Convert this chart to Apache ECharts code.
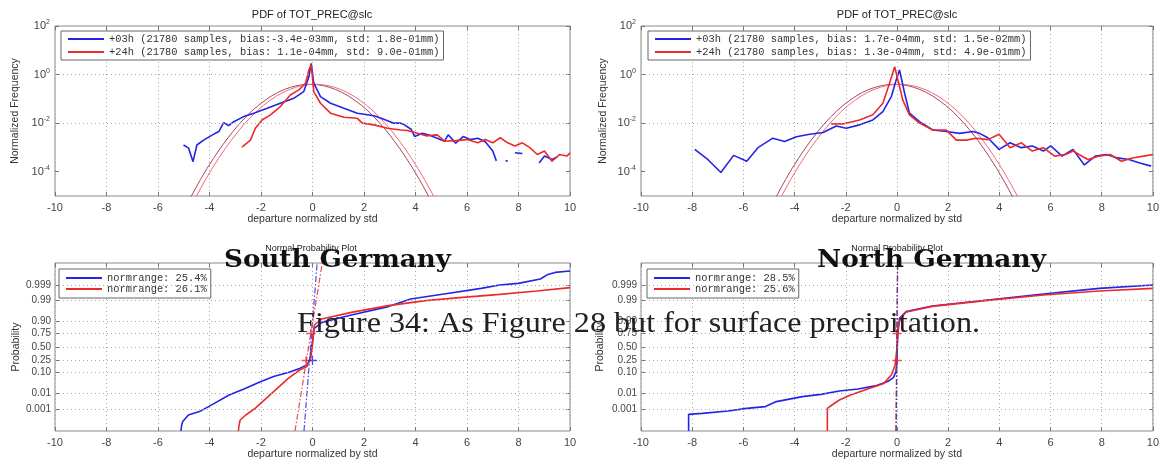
<!DOCTYPE html>
<html>
<head>
<meta charset="utf-8">
<script src="https://cdn.jsdelivr.net/npm/echarts@6/dist/echarts.min.js"></script>
<style>html,body{margin:0;padding:0;background:#fff}#c{width:1162px;height:466px}</style>
</head>
<body>
<div id="c"></div>
<script>
// ---------------- data ----------------
const LOG_TICKS = [1e-4, 1e-2, 1, 100];
const LOG_GRID = [1e-4, 1e-2, 1];
const PROB_LABELS = ['0.001','0.01','0.10','0.25','0.50','0.75','0.90','0.99','0.999'];
const PROB_Z = [-3.090,-2.326,-1.282,-0.674,0,0.674,1.282,2.326,3.090];

const TL_BLUE_NAME = '+03h (21780 samples, bias:-3.4e-03mm, std: 1.8e-01mm)';
const TL_RED_NAME  = '+24h (21780 samples, bias: 1.1e-04mm, std: 9.0e-01mm)';
const TR_BLUE_NAME = '+03h (21780 samples, bias: 1.7e-04mm, std: 1.5e-02mm)';
const TR_RED_NAME  = '+24h (21780 samples, bias: 1.3e-04mm, std: 4.9e-01mm)';
const BL_BLUE_NAME = 'normrange: 25.4%';
const BL_RED_NAME  = 'normrange: 26.1%';
const BR_BLUE_NAME = 'normrange: 28.5%';
const BR_RED_NAME  = 'normrange: 25.6%';

const TL_BLUE = [[-5.01,1.26e-3],[-4.81,9.3e-4],[-4.64,2.6e-4],[-4.49,1.26e-3],[-4.23,2.0e-3],[-3.90,3.2e-3],[-3.64,4.5e-3],[-3.45,1.05e-2],[-3.26,7.9e-3],[-3.06,1.15e-2],[-2.67,1.86e-2],[-2.28,2.57e-2],[-1.76,4.1e-2],[-1.25,6.6e-2],[-0.73,0.105],[-0.34,0.20],[-0.14,0.81],[-0.05,2.9],[0.05,0.44],[0.31,0.123],[0.70,0.066],[1.22,0.041],[1.74,0.0257],[2.39,0.020],[2.77,0.0145],[3.16,0.010],[3.42,0.010],[3.54,0.0089],[3.83,0.0056],[3.97,0.0028],[4.26,0.0038],[4.55,0.0032],[4.84,0.0024],[5.13,0.0018],[5.27,0.0033],[5.56,0.0015],[5.85,0.0028],[6.13,0.0021],[6.42,0.0024],[6.71,0.0017],[7.00,7.1e-4],[7.14,2.8e-4],[7.2,null],[7.50,2.8e-4],[7.58,2.8e-4],[7.65,null],[7.86,6.0e-4],[8.15,5.6e-4],[8.2,null],[8.80,2.3e-4],[9.01,4.4e-4],[9.30,3.2e-4],[9.50,4.0e-4]];
const TL_RED = [[-2.74,1.02e-3],[-2.41,2.0e-3],[-2.22,6.2e-3],[-1.96,1.35e-2],[-1.63,2.2e-2],[-1.25,4.8e-2],[-0.86,0.145],[-0.53,0.234],[-0.27,0.44],[-0.14,1.55],[-0.05,2.5],[0.05,0.20],[0.31,0.066],[0.70,0.0257],[1.22,0.0174],[1.74,0.0158],[1.93,0.010],[2.39,0.0085],[2.91,0.0062],[3.42,0.0052],[3.69,0.0050],[3.97,0.0041],[4.41,0.0030],[4.84,0.0033],[5.13,0.0018],[5.56,0.0019],[6.00,0.0021],[6.42,0.00155],[6.71,0.0021],[7.00,0.00155],[7.29,0.0025],[7.58,0.00155],[7.86,0.00115],[8.15,0.00155],[8.44,0.00098],[8.73,0.00051],[9.01,0.00071],[9.30,0.00027],[9.59,0.00051],[9.88,0.00044],[10,0.0006]];
const TR_BLUE = [[-7.90,8.3e-4],[-7.39,3.2e-4],[-6.88,9.3e-5],[-6.38,4.7e-4],[-5.87,2.7e-4],[-5.43,9.8e-4],[-4.85,2.4e-3],[-4.39,1.74e-3],[-3.93,2.75e-3],[-3.41,3.5e-3],[-2.89,4.1e-3],[-2.37,7.6e-3],[-1.98,6.2e-3],[-1.46,8.5e-3],[-0.94,1.35e-2],[-0.55,2.95e-2],[-0.22,0.123],[-0.03,0.60],[0.10,1.55],[0.30,0.17],[0.49,0.0257],[0.88,0.0115],[1.40,0.0052],[1.93,0.0045],[2.45,0.0038],[2.97,0.0045],[3.23,0.0038],[3.55,0.0025],[3.99,8.3e-4],[4.42,1.55e-3],[4.86,9.8e-4],[5.29,1.15e-3],[5.72,7.1e-4],[6.01,1.15e-3],[6.45,4.4e-4],[6.88,8.3e-4],[7.32,1.9e-4],[7.75,4.4e-4],[8.19,5.1e-4],[8.62,3.7e-4],[9.06,3.2e-4],[9.49,2.3e-4],[9.93,1.7e-4]];
const TR_RED = [[-2.57,9.3e-3],[-2.11,9.3e-3],[-1.46,1.35e-2],[-0.94,2.2e-2],[-0.55,0.066],[-0.29,0.44],[-0.09,2.1],[0.04,0.60],[0.23,0.089],[0.49,0.022],[0.88,0.010],[1.40,0.0052],[1.93,0.0052],[2.32,0.0020],[2.71,0.0020],[3.10,0.0024],[3.55,0.0021],[3.99,0.0035],[4.42,9.8e-4],[4.86,1.55e-3],[5.29,7.1e-4],[5.72,9.8e-4],[6.16,4.4e-4],[6.59,5.1e-4],[6.88,7.1e-4],[7.46,3.2e-4],[7.90,4.4e-4],[8.33,5.1e-4],[8.77,2.7e-4],[9.20,3.7e-4],[9.64,4.4e-4],[10,5.1e-4]];

// fitted normal curves
const GAUSS_DARK = [[-4.85,5.0e-6],[-4.6,1.6e-5],[-4.35,4.8e-5],[-4.1,1.34e-4],[-3.85,3.5e-4],[-3.6,8.7e-4],[-3.35,2.0e-3],[-3.1,4.4e-3],[-2.85,9.1e-3],[-2.6,1.75e-2],[-2.35,3.2e-2],[-2.1,5.4e-2],[-1.85,8.6e-2],[-1.6,0.13],[-1.35,0.183],[-1.1,0.242],[-0.85,0.301],[-0.6,0.352],[-0.35,0.387],[-0.1,0.399],[0.15,0.387],[0.4,0.352],[0.65,0.301],[0.9,0.242],[1.15,0.183],[1.4,0.13],[1.65,8.6e-2],[1.9,5.4e-2],[2.15,3.2e-2],[2.4,1.75e-2],[2.65,9.1e-3],[2.9,4.4e-3],[3.15,2.0e-3],[3.4,8.7e-4],[3.65,3.5e-4],[3.9,1.34e-4],[4.15,4.8e-5],[4.4,1.6e-5],[4.65,5.0e-6]];
const GAUSS_LIGHT = [[-4.65,5.0e-6],[-4.4,1.6e-5],[-4.15,4.8e-5],[-3.9,1.34e-4],[-3.65,3.5e-4],[-3.4,8.7e-4],[-3.15,2.0e-3],[-2.9,4.4e-3],[-2.65,9.1e-3],[-2.4,1.75e-2],[-2.15,3.2e-2],[-1.9,5.4e-2],[-1.65,8.6e-2],[-1.4,0.13],[-1.15,0.183],[-0.9,0.242],[-0.65,0.301],[-0.4,0.352],[-0.15,0.387],[0.1,0.399],[0.35,0.387],[0.6,0.352],[0.85,0.301],[1.1,0.242],[1.35,0.183],[1.6,0.13],[1.85,8.6e-2],[2.1,5.4e-2],[2.35,3.2e-2],[2.6,1.75e-2],[2.85,9.1e-3],[3.1,4.4e-3],[3.35,2.0e-3],[3.6,8.7e-4],[3.85,3.5e-4],[4.1,1.34e-4],[4.35,4.8e-5],[4.6,1.6e-5],[4.85,5.0e-6]];

// normal probability plots: [departure, normal score]
const BL_BLUE = [[-5.11,-4.2],[-5.08,-3.9],[-5.04,-3.73],[-4.82,-3.40],[-4.39,-3.23],[-3.81,-2.82],[-3.24,-2.40],[-2.66,-2.10],[-2.09,-1.77],[-1.51,-1.48],[-0.94,-1.27],[-0.50,-1.07],[-0.22,-0.90],[-0.10,-0.65],[-0.04,-0.07],[0.0,0.27],[0.04,0.70],[0.07,0.93],[0.36,1.23],[1.51,1.60],[2.95,2.02],[3.81,2.40],[5.11,2.65],[6.55,2.93],[7.27,3.10],[7.99,3.18],[8.85,3.40],[9.14,3.63],[9.42,3.73],[10,3.80]];
const BL_RED = [[-2.88,-4.2],[-2.85,-3.9],[-2.81,-3.65],[-2.59,-3.40],[-2.23,-3.07],[-1.80,-2.57],[-1.37,-2.07],[-0.94,-1.57],[-0.50,-1.15],[-0.22,-0.98],[-0.07,-0.57],[0,0.10],[0.07,1.10],[0.36,1.40],[1.51,1.73],[2.95,2.07],[4.39,2.32],[5.83,2.48],[7.27,2.63],[8.71,2.80],[10,2.97]];
const BL_BLUE_REF = [[-0.33,-4.2],[0.18,4.2]];
const BL_RED_REF = [[-0.68,-4.2],[0.38,4.2]];
const BL_RED_PLUS = [[-0.07,0.674],[-0.25,-0.674]];
const BL_BLUE_PLUS = [[0.0,-0.674]];

const BR_BLUE = [[-8.14,-4.2],[-8.14,-3.37],[-7.61,-3.32],[-6.59,-3.20],[-5.87,-3.07],[-5.14,-2.98],[-4.71,-2.73],[-3.70,-2.48],[-2.97,-2.37],[-2.25,-2.20],[-1.52,-2.10],[-0.80,-1.93],[-0.36,-1.73],[-0.14,-1.53],[-0.04,-1.23],[0,-0.73],[0.03,0.60],[0.10,1.43],[0.36,1.77],[1.38,2.05],[3.55,2.35],[5.72,2.65],[7.90,2.93],[10,3.10]];
const BR_RED = [[-2.72,-4.2],[-2.72,-3.07],[-2.54,-2.90],[-2.25,-2.65],[-1.81,-2.40],[-1.09,-2.07],[-0.51,-1.82],[-0.22,-1.40],[-0.07,-0.90],[0,-0.07],[0.04,0.93],[0.14,1.43],[0.36,1.75],[1.38,2.03],[3.55,2.33],[5.72,2.60],[7.90,2.80],[10,2.93]];
const BR_BLUE_REF = [[-0.03,-4.2],[0.03,4.2]];
const BR_RED_REF = [[-0.04,-4.2],[0.02,4.2]];
const BR_RED_PLUS = [[0.0,0.674],[0.0,-0.674]];

// ---------------- styling / layout ----------------
const BLUE = '#2424e6', RED = '#ec2a2a', GDARK = '#a34a5e', GLIGHT = '#f06a78';
const SANS = 'Liberation Sans', MONO = 'Liberation Mono';
const GRIDS = [
  {left:55, top:26, width:515, height:170},
  {left:641, top:26, width:512, height:170},
  {left:55, top:263, width:515, height:168},
  {left:641, top:263, width:512, height:168}
].map(g => Object.assign(g, {show:true, borderColor:'#8a8a8a', borderWidth:1, backgroundColor:'#fff'}));

const gridLine = {type:[1,3], color:'#a8a8a8', width:1};
const tickStyle = {color:'#777'};
const noLine = {show:false, onZero:false};

function xAx(i){
  return {type:'value', gridIndex:i, min:-10, max:10, interval:2, position:'bottom',
    name:'departure normalized by std', nameLocation:'middle', nameGap:17,
    nameTextStyle:{fontSize:10.5, color:'#333', fontFamily:SANS},
    axisLine:noLine,
    axisTick:{inside:true, length:4, lineStyle:tickStyle},
    axisLabel:{fontSize:11, color:'#444', fontFamily:SANS, margin:6},
    splitLine:{show:true, lineStyle:gridLine}};
}
function xTop(i){
  return {type:'value', gridIndex:i, min:-10, max:10, interval:2, position:'top',
    axisLine:noLine, axisTick:{inside:true, length:4, lineStyle:tickStyle},
    axisLabel:{show:false}, splitLine:{show:false}};
}
function yLog(i, gap){
  return {type:'log', logBase:10, gridIndex:i, min:1e-5, max:100, position:'left',
    name:'Normalized Frequency', nameLocation:'middle', nameGap:gap,
    nameTextStyle:{fontSize:10.5, color:'#333', fontFamily:SANS},
    axisLine:noLine,
    axisTick:{inside:true, length:4, customValues:LOG_TICKS, lineStyle:tickStyle},
    axisLabel:{customValues:LOG_TICKS, margin:5,
      formatter: v => '{b|10}{s|' + Math.round(Math.log10(v)) + '}',
      rich:{b:{fontSize:11, color:'#444', fontFamily:SANS}, s:{fontSize:7, color:'#444', fontFamily:SANS, padding:[0,0,8,0]}}},
    splitLine:{show:false}, minorTick:{show:false}, minorSplitLine:{show:false}};
}
function yLogRight(i){
  return {type:'log', logBase:10, gridIndex:i, min:1e-5, max:100, position:'right',
    axisLine:noLine, axisTick:{inside:true, length:4, customValues:LOG_TICKS, lineStyle:tickStyle},
    axisLabel:{show:false}, splitLine:{show:false}, minorTick:{show:false}};
}
function yProb(i, gap){
  return {type:'value', gridIndex:i, min:-4.2, max:4.2, position:'left',
    name:'Probability', nameLocation:'middle', nameGap:gap,
    nameTextStyle:{fontSize:10.5, color:'#333', fontFamily:SANS},
    axisLine:noLine,
    axisTick:{inside:true, length:4, customValues:PROB_Z, lineStyle:tickStyle},
    axisLabel:{customValues:PROB_Z, fontSize:10, color:'#444', fontFamily:SANS, margin:4,
      formatter: v => { const k = PROB_Z.findIndex(z => Math.abs(z - v) < 1e-6); return k >= 0 ? PROB_LABELS[k] : ''; }},
    splitLine:{show:false}};
}
function yProbRight(i){
  return {type:'value', gridIndex:i, min:-4.2, max:4.2, position:'right',
    axisLine:noLine, axisTick:{inside:true, length:4, customValues:PROB_Z, lineStyle:tickStyle},
    axisLabel:{show:false}, splitLine:{show:false}};
}
function hGrid(vals){
  return {silent:true, symbol:'none', label:{show:false}, lineStyle:gridLine, animation:false,
    data: vals.map(v => ({yAxis:v}))};
}
function line(name, data, gi, color, width, extra){
  return Object.assign({type:'line', name, data, xAxisIndex:gi, yAxisIndex:gi, symbol:'none',
    lineStyle:{color, width}, itemStyle:{color}, connectNulls:false, animation:false, z:3}, extra || {});
}
function refLine(data, gi, color){
  return {type:'line', data, xAxisIndex:gi, yAxisIndex:gi, symbol:'none', silent:true,
    lineStyle:{color, width:1.2, type:[6,2,1.5,2]}, animation:false, z:4};
}
const PLUS = 'path://M0,5L10,5M5,0L5,10';
function plus(data, gi, color){
  return {type:'scatter', data, xAxisIndex:gi, yAxisIndex:gi, symbol:PLUS, symbolSize:9, silent:true,
    itemStyle:{color:'none', borderColor:color, borderWidth:1.3}, animation:false, z:5};
}
function legend(left, top, names, itemH, gap, pad){
  return {left, top, orient:'vertical', data:names, itemWidth:36, itemHeight:itemH, itemGap:gap,
    padding:pad, borderColor:'#666', borderWidth:1, backgroundColor:'#fff', selectedMode:false,
    itemStyle:{color:'rgba(0,0,0,0)', borderColor:'rgba(0,0,0,0)', borderWidth:0, opacity:0},
    textStyle:{fontFamily:MONO, fontSize:10.4, color:'#333', lineHeight:itemH}};
}

// overlay text helpers
const mctx = document.createElement('canvas').getContext('2d');
function fitText(text, font, x0, x1, yMid, color){
  mctx.font = font;
  const w = mctx.measureText(text).width;
  return {type:'text', x:x0, y:yMid, scaleX:(x1 - x0) / w, z:100, silent:true,
    style:{text, font, fill:color, align:'left', verticalAlign:'middle'}};
}
function cText(text, font, xc, yMid, color){
  return {type:'text', x:xc, y:yMid, z:100, silent:true,
    style:{text, font, fill:color, align:'center', verticalAlign:'middle'}};
}

const option = {
  animation:false,
  backgroundColor:'#fff',
  grid: GRIDS,
  xAxis: [xAx(0), xAx(1), xAx(2), xAx(3), xTop(0), xTop(1), xTop(2), xTop(3)],
  yAxis: [yLog(0, 34), yLog(1, 32), yProb(2, 33), yProb(3, 35), yLogRight(0), yLogRight(1), yProbRight(2), yProbRight(3)],
  legend: [
    legend(61, 31, [TL_BLUE_NAME, TL_RED_NAME], 10, 3, [3,4,3,6]),
    legend(648, 31, [TR_BLUE_NAME, TR_RED_NAME], 10, 3, [3,4,3,6]),
    legend(59, 269, [BL_BLUE_NAME, BL_RED_NAME], 8, 1, [4,4,4,6]),
    legend(647, 269, [BR_BLUE_NAME, BR_RED_NAME], 8, 1, [4,4,4,6])
  ],
  series: [
    line('gd0', GAUSS_DARK, 0, GDARK, 1, {z:2, markLine:hGrid(LOG_GRID)}),
    line('gl0', GAUSS_LIGHT, 0, GLIGHT, 1, {z:2}),
    line(TL_BLUE_NAME, TL_BLUE, 0, BLUE, 1.6),
    line(TL_RED_NAME, TL_RED, 0, RED, 1.6),

    line('gd1', GAUSS_DARK, 1, GDARK, 1, {z:2, markLine:hGrid(LOG_GRID)}),
    line('gl1', GAUSS_LIGHT, 1, GLIGHT, 1, {z:2}),
    line(TR_BLUE_NAME, TR_BLUE, 1, BLUE, 1.6),
    line(TR_RED_NAME, TR_RED, 1, RED, 1.6),

    line(BL_BLUE_NAME, BL_BLUE, 2, BLUE, 1.6, {markLine:hGrid(PROB_Z)}),
    line(BL_RED_NAME, BL_RED, 2, RED, 1.6),
    refLine(BL_BLUE_REF, 2, '#4a4af0'),
    refLine(BL_RED_REF, 2, '#f04a4a'),
    plus(BL_RED_PLUS, 2, RED),
    plus(BL_BLUE_PLUS, 2, BLUE),

    line(BR_BLUE_NAME, BR_BLUE, 3, BLUE, 1.6, {markLine:hGrid(PROB_Z)}),
    line(BR_RED_NAME, BR_RED, 3, RED, 1.6),
    refLine(BR_RED_REF, 3, '#c03050'),
    refLine(BR_BLUE_REF, 3, '#5a3aa0'),
    plus(BR_RED_PLUS, 3, RED)
  ],
  graphic: [
    cText('PDF of TOT_PREC@slc', '11px "Liberation Sans"', 312, 15, '#222'),
    cText('PDF of TOT_PREC@slc', '11px "Liberation Sans"', 897, 15, '#222'),
    cText('Normal Probability Plot', '9px "Liberation Sans"', 311, 249, '#222'),
    cText('Normal Probability Plot', '9px "Liberation Sans"', 897, 249, '#222'),
    fitText('South Germany', 'bold 24px "DejaVu Serif"', 224, 451, 261, '#111'),
    fitText('North Germany', 'bold 24px "DejaVu Serif"', 817, 1046, 261, '#111'),
    fitText('Figure 34: As Figure 28 but for surface precipitation.', '29px "Liberation Serif"', 297, 980, 324, '#222')
  ]
};

const chart = echarts.init(document.getElementById('c'));
chart.setOption(option);
</script>
</body>
</html>
